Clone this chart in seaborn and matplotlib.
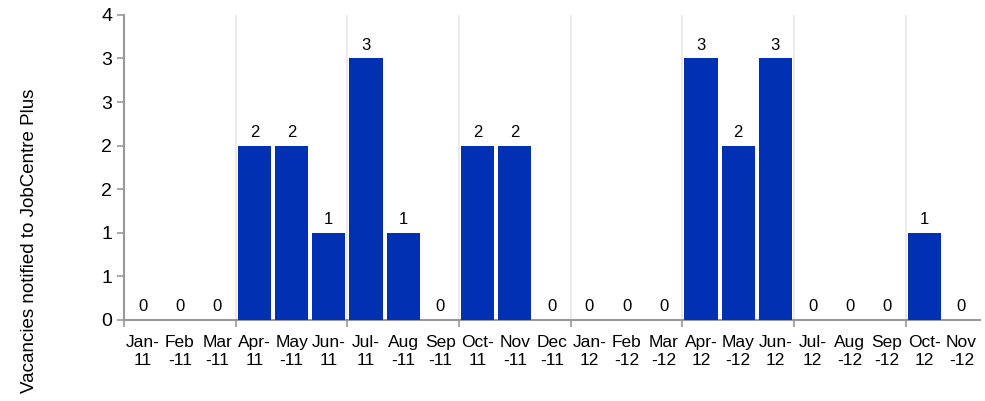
import math
import pandas as pd
import seaborn as sns
import matplotlib.pyplot as plt
from matplotlib.ticker import FuncFormatter, FixedLocator

# Data
months = ['Jan-\n11', 'Feb\n-11', 'Mar\n-11', 'Apr-\n11', 'May\n-11', 'Jun-\n11',
          'Jul-\n11', 'Aug\n-11', 'Sep\n-11', 'Oct-\n11', 'Nov\n-11', 'Dec\n-11',
          'Jan-\n12', 'Feb\n-12', 'Mar\n-12', 'Apr-\n12', 'May\n-12', 'Jun-\n12',
          'Jul-\n12', 'Aug\n-12', 'Sep\n-12', 'Oct-\n12', 'Nov\n-12']
vacancies = [0, 0, 0, 2, 2, 1, 3, 1, 0, 2, 2, 0, 0, 0, 0, 3, 2, 3, 0, 0, 0, 1, 0]

df = pd.DataFrame({'Month': months, 'Vacancies': vacancies})

sns.set_style('white')
plt.rcParams['font.family'] = ['Liberation Sans', 'DejaVu Sans']

fig = plt.figure(figsize=(9.85, 4.01), dpi=100)
ax = fig.add_axes([0.126, 0.202, 0.869, 0.761])

sns.barplot(data=df, x='Month', y='Vacancies', color='#0230B3',
            width=0.89, saturation=1, linewidth=0, edgecolor='none', ax=ax, zorder=3)

ax.bar_label(ax.containers[0], fmt='%d', padding=4, fontsize=12, color='black')

ax.set_ylim(0, 3.5)
ax.set_xlim(-0.5, len(months) - 0.5)
ax.yaxis.set_major_locator(FixedLocator([i * 0.5 for i in range(8)]))
ax.yaxis.set_major_formatter(FuncFormatter(lambda v, p: str(int(math.floor(v + 0.5)))))

# quarter separators
quarters = [i - 0.5 for i in range(3, len(months), 3)]
ax.xaxis.set_minor_locator(FixedLocator([-0.5] + quarters))
ax.grid(False)
for q in quarters:
    ax.axvline(q, color='#e8e8e8', lw=1.2, zorder=1)

ax.tick_params(axis='x', which='major', length=0, labelsize=12.5, pad=11, labelcolor='black')
ax.tick_params(axis='x', which='minor', length=5, width=1.2, color='#999999', bottom=True)
ax.tick_params(axis='y', length=5, width=1.2, color='#999999', labelsize=14,
               left=True, labelcolor='black')

for s in ['top', 'right']:
    ax.spines[s].set_visible(False)
for s in ['left', 'bottom']:
    ax.spines[s].set_color('#999999')
    ax.spines[s].set_linewidth(1.5)

ax.set_xlabel('')
ax.set_ylabel('Vacancies notified to JobCentre Plus', fontsize=13.5, color='black')
ax.yaxis.set_label_coords(-0.101, 0.26)

fig.savefig('out.png', dpi=100)
